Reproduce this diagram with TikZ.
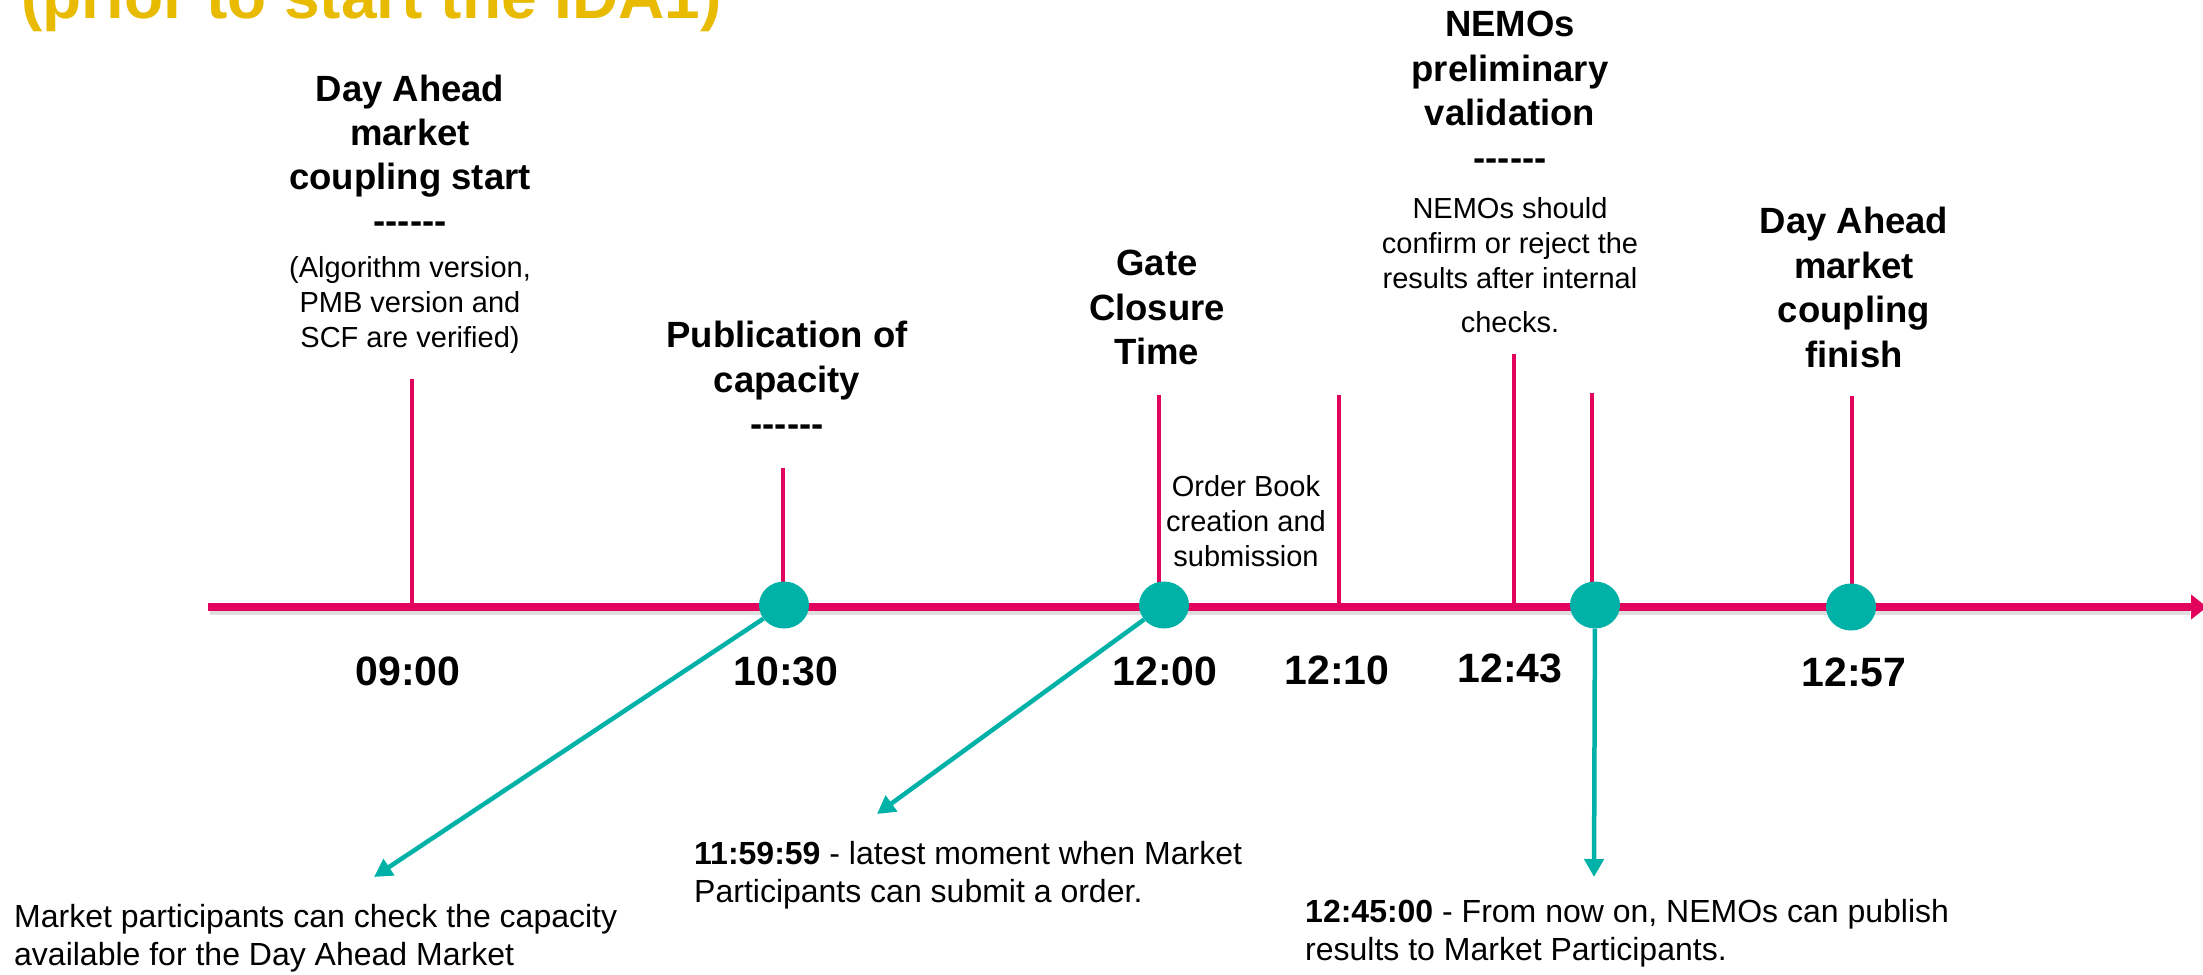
\documentclass[tikz,border=0pt]{standalone}
\usepackage{fontspec}
\setmainfont{Liberation Sans}
\usetikzlibrary{arrows.meta,shapes.geometric}

\definecolor{axisred}{RGB}{226,4,92}
\definecolor{dotteal}{RGB}{0,177,168}
\definecolor{titlegold}{RGB}{232,186,0}

% a row of plain hyphens (kerns stop the TeX dash ligatures)
\newcommand{\hyphrow}{-\kern0pt-\kern0pt-\kern0pt-\kern0pt-\kern0pt-}

\tikzset{
  headtxt/.style={anchor=north, inner sep=0pt, align=center,
    font=\fontsize{36.5bp}{44.5bp}\selectfont\bfseries},
  bodytxt/.style={anchor=north, inner sep=0pt, align=center,
    font=\fontsize{29bp}{35bp}\selectfont},
  timetxt/.style={anchor=north, inner sep=0pt,
    font=\fontsize{41bp}{49bp}\selectfont\bfseries},
  notetxt/.style={anchor=north west, inner sep=0pt, align=left,
    font=\fontsize{32bp}{38bp}\selectfont},
  tickline/.style={draw=axisred, line width=4.5bp},
  axisline/.style={draw=axisred, line width=8bp, -{Triangle[length=16bp,width=24bp]}},
  axisshadow/.style={draw=black, opacity=0.13, line width=8bp},
  dot/.style={ellipse, fill=dotteal, minimum width=50bp, minimum height=47bp, inner sep=0pt},
  pointer/.style={draw=dotteal, line width=4.5bp, -{Triangle[length=18bp,width=19bp]}},
}

\begin{document}
\begin{tikzpicture}[x=1bp,y=-1bp]
\useasboundingbox (0,0) rectangle (2203,974);
\clip (0,0) rectangle (2203,974);
\fill[white] (0,0) rectangle (2203,974);

% heading (only its lower line falls inside the frame)
\node[anchor=base west, inner sep=0pt, text=titlegold,
      font=\fontsize{64bp}{70bp}\selectfont\bfseries] (title) at (21,18) {(prior to start the IDA1)};

% time axis
\coordinate (axstart) at (208,607);
\coordinate (axend) at (2207,607);
\coordinate (shstart) at (210,611);
\coordinate (shend) at (2190,611);
\draw[axisshadow] (shstart) -- (shend);

% tick marks
\coordinate (k1top) at (412,379);  \coordinate (k1) at (412,607);
\coordinate (k2top) at (783,468);  \coordinate (k2) at (783,607);
\coordinate (k3top) at (1159,395); \coordinate (k3) at (1159,607);
\coordinate (k4top) at (1339,395); \coordinate (k4) at (1339,607);
\coordinate (k5top) at (1514,354); \coordinate (k5) at (1514,607);
\coordinate (k6top) at (1592,393); \coordinate (k6) at (1592,607);
\coordinate (k7top) at (1852,396); \coordinate (k7) at (1852,607);
\foreach \k in {1,...,7} {\draw[tickline] (k\k top) -- (k\k);}

\draw[axisline] (axstart) -- (axend);

% event dots
\node[dot] (c1) at (784,605) {};
\node[dot] (c2) at (1164,605) {};
\node[dot] (c3) at (1595,605) {};
\node[dot] (c4) at (1851,607) {};

% pointers to the notes
\coordinate (p1) at (374,877);
\coordinate (p2) at (877,814);
\coordinate (p3) at (1594,877);
\draw[pointer] (c1) -- (p1);
\draw[pointer] (c2) -- (p2);
\draw[pointer] (c3) -- (p3);

% event headings and descriptions
\node[headtxt, font=\fontsize{36.5bp}{43.8bp}\selectfont\bfseries] (hA) at (410,75) {Day Ahead\\market\\coupling start\\\hyphrow};
\node[bodytxt] (dA) at (410,256) {(Algorithm version,\\PMB version and\\SCF are verified)};
\node[headtxt] (hB) at (787,321) {Publication of\\capacity\\\hyphrow};
\node[headtxt] (hC) at (1157,250) {Gate\\Closure\\Time};
\node[bodytxt] (dD) at (1246,475) {Order Book\\creation and\\submission};
\node[headtxt] (hE) at (1510,11) {NEMOs\\preliminary\\validation\\\hyphrow};
\node[bodytxt] (dE) at (1510,197) {NEMOs should\\confirm or reject the\\results after internal\\[9bp]checks.};
\node[headtxt] (hF) at (1854,207) {Day Ahead\\market\\coupling\\finish};

% times
\node[timetxt] (m1) at (408,657) {09:00};
\node[timetxt] (m2) at (786,657) {10:30};
\node[timetxt] (m3) at (1165,657) {12:00};
\node[timetxt] (m4) at (1337,656) {12:10};
\node[timetxt] (m5) at (1510,654) {12:43};
\node[timetxt] (m6) at (1854,658) {12:57};

% notes
\node[notetxt] (n1) at (14,904) {Market participants can check the capacity\\available for the Day Ahead Market};
\node[notetxt] (n2) at (694,841) {\textbf{11:59:59} - latest moment when Market\\Participants can submit a order.};
\node[notetxt] (n3) at (1305,899) {\textbf{12:45:00} - From now on, NEMOs can publish\\results to Market Participants.};
\end{tikzpicture}
\end{document}
